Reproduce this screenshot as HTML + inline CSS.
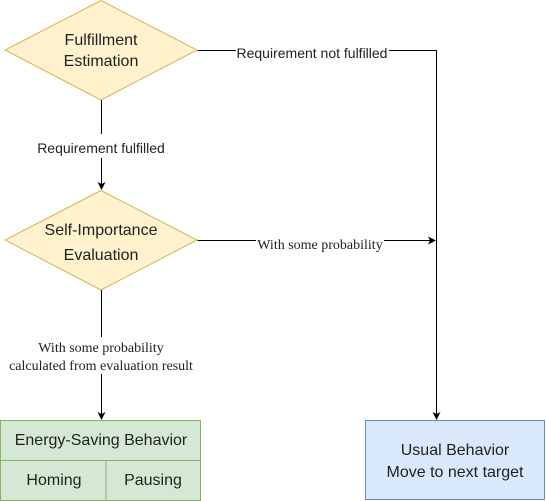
<!DOCTYPE html>
<html><head><style>html,body{margin:0;padding:0;background:#fff;width:546px;height:501px;overflow:hidden}</style></head><body>
<svg width="546" height="501" xmlns="http://www.w3.org/2000/svg" font-family="Liberation Sans, sans-serif">
<defs><marker id="a" markerWidth="8" markerHeight="8" refX="7" refY="4" orient="auto" markerUnits="userSpaceOnUse"><path d="M0,0 L8,4 L0,8 L2,4 Z" fill="#000"/></marker></defs>
<polygon points="101,0.5 197,50 101,100 5,50" fill="#fff2cc" stroke="#d6b656"/>
<polygon points="101,190.5 197,240 101,290 5,240" fill="#fff2cc" stroke="#d6b656"/>
<g stroke="#000" fill="none">
<path d="M197.5,50.5 H436.5 V419" marker-end="url(#a)"/>
<path d="M197.5,240.5 H435" marker-end="url(#a)"/>
<path d="M101.5,100 V189" marker-end="url(#a)"/>
<path d="M101.5,290 V419" marker-end="url(#a)"/>
</g>
<rect x="236" y="44" width="153" height="16" fill="#fff"/>
<rect x="34" y="134" width="134" height="24" fill="#fff"/>
<rect x="256" y="233" width="128" height="16" fill="#fff"/>
<rect x="6" y="337" width="190" height="37" fill="#fff"/>
<g font-size="16" fill="#222" text-anchor="middle">
<text x="101" y="45">Fulfillment</text>
<text x="101" y="66">Estimation</text>
<text x="101" y="235">Self-Importance</text>
<text x="101" y="260">Evaluation</text>
</g>
<g font-size="14" fill="#222" text-anchor="middle">
<text x="312" y="58">Requirement not fulfilled</text>
<text x="101" y="153">Requirement fulfilled</text>
</g>
<g font-size="14" fill="#222" text-anchor="middle" font-family="Liberation Serif, serif">
<text x="320" y="249">With some probability</text>
<text x="101" y="352">With some probability</text>
<text x="101" y="370">calculated from evaluation result</text>
</g>
<rect x="0.5" y="420.5" width="200" height="80" fill="#d5e8d4" stroke="#82b366"/>
<path d="M0.5,460.5 H200.5 M106,460.5 V500.5" stroke="#82b366"/>
<rect x="365.5" y="420.5" width="179" height="79" fill="#dae8fc" stroke="#6c8ebf"/>
<g font-size="16" fill="#222" text-anchor="middle">
<text x="101" y="445">Energy-Saving Behavior</text>
<text x="54" y="485">Homing</text>
<text x="153" y="485">Pausing</text>
<text x="455" y="455">Usual Behavior</text>
<text x="455" y="477">Move to next target</text>
</g>
</svg>
</body></html>
